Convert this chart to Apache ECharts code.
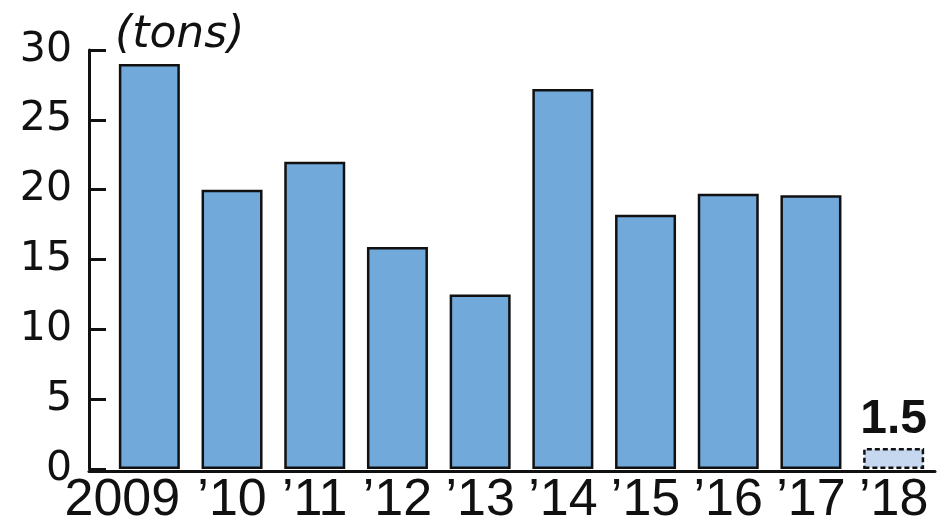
<!DOCTYPE html>
<html>
<head>
<meta charset="utf-8">
<script src="https://cdn.jsdelivr.net/npm/echarts@6/dist/echarts.min.js"></script>
<style>html,body{margin:0;padding:0;background:#fff;}#c{width:937px;height:527px;}</style>
</head>
<body>
<div id="c"></div>
<script>
var categories = ['2009', '\u201910', '\u201911', '\u201912', '\u201913', '\u201914', '\u201915', '\u201916', '\u201917', '\u201918'];
var values = [29, 20, 22, 15.9, 12.5, 27.2, 18.2, 19.7, 19.6, 1.5];
var yTicks = [0, 5, 10, 15, 20, 25, 30];
var unitLabel = '(tons)';

var chart = echarts.init(document.getElementById('c'));
var lastIdx = values.length - 1;
var xFont = '"Liberation Sans", Arial, sans-serif';
var barData = values.map(function (v, i) {
  if (i === lastIdx) {
    return {
      value: v,
      itemStyle: { color: '#c6d7f0', borderColor: '#111', borderWidth: 2.5, borderType: [5, 3] },
      label: {
        show: true, position: 'top', distance: 4,
        formatter: function (p) { return p.value.toFixed(1); },
        fontFamily: xFont, fontWeight: 'bold', fontSize: 48, color: '#111'
      }
    };
  }
  return v;
});

chart.setOption({
  animation: false,
  grid: [
    { left: 108, right: 2, top: 50, bottom: 56 },
    { left: 89, right: 2, top: 50, bottom: 56 }
  ],
  xAxis: [
    {
      type: 'category', gridIndex: 0, data: categories,
      axisLine: { show: false },
      axisTick: { show: false },
      axisLabel: {
        interval: 0, margin: 6, color: '#111', fontSize: 52, lineHeight: 52,
        fontFamily: xFont,
        formatter: function (v, i) { return i === 0 ? '{f|' + v + '}' : v; },
        rich: {
          f: { padding: [0, 54, 0, 0], fontSize: 52, lineHeight: 52, fontFamily: xFont, color: '#111' }
        }
      }
    },
    {
      type: 'value', gridIndex: 1, min: 0, max: 1,
      axisLine: { show: true, lineStyle: { color: '#111', width: 3 } },
      axisTick: { show: false }, axisLabel: { show: false }, splitLine: { show: false }
    }
  ],
  yAxis: [
    {
      type: 'value', gridIndex: 0, min: yTicks[0], max: yTicks[yTicks.length - 1], interval: 5, offset: 19,
      axisLine: { show: true, lineStyle: { color: '#111', width: 3 } },
      axisTick: { show: true, inside: true, length: 17, lineStyle: { color: '#111', width: 3 } },
      axisLabel: { margin: 17, color: '#111', fontSize: 41, fontFamily: '"DejaVu Sans", sans-serif' },
      splitLine: { show: false },
      name: unitLabel, nameLocation: 'end', nameGap: 14,
      nameTextStyle: {
        align: 'left', verticalAlign: 'middle', padding: [0, 0, 0, 26],
        fontSize: 44, fontStyle: 'italic', color: '#111', fontFamily: '"DejaVu Sans", sans-serif'
      }
    },
    { type: 'value', gridIndex: 1, show: false, min: 0, max: 1 }
  ],
  series: [{
    type: 'bar', xAxisIndex: 0, yAxisIndex: 0,
    data: barData, barWidth: 61,
    itemStyle: { color: '#72a9db', borderColor: '#111', borderWidth: 2.5 }
  }]
});
</script>
</body>
</html>
